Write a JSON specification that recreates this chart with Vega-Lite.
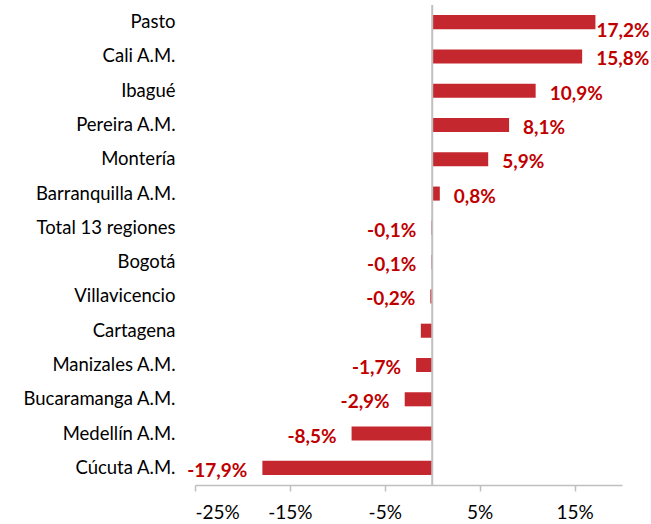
{
  "$schema": "https://vega.github.io/schema/vega-lite/v6.json",
  "width": 427,
  "height": 480,
  "autosize": {"type": "none"},
  "padding": {"left": 195, "top": 5, "right": 29, "bottom": 39},
  "background": "white",
  "config": {"view": {"stroke": null}, "font": "Lato"},
  "data": {
    "values": [
      {"region": "Pasto", "value": 17.2, "label": "17,2%"},
      {"region": "Cali  A.M.", "value": 15.8, "label": "15,8%"},
      {"region": "Ibagué", "value": 10.9, "label": "10,9%"},
      {"region": "Pereira A.M.", "value": 8.1, "label": "8,1%"},
      {"region": "Montería", "value": 5.9, "label": "5,9%"},
      {"region": "Barranquilla A.M.", "value": 0.8, "label": "0,8%"},
      {"region": "Total 13 regiones", "value": -0.1, "label": "-0,1%"},
      {"region": "Bogotá", "value": -0.1, "label": "-0,1%"},
      {"region": "Villavicencio", "value": -0.2, "label": "-0,2%"},
      {"region": "Cartagena", "value": -1.2, "label": ""},
      {"region": "Manizales A.M.", "value": -1.7, "label": "-1,7%"},
      {"region": "Bucaramanga A.M.", "value": -2.9, "label": "-2,9%"},
      {"region": "Medellín A.M.", "value": -8.5, "label": "-8,5%"},
      {"region": "Cúcuta A.M.", "value": -17.9, "label": "-17,9%"}
    ]
  },
  "encoding": {
    "y": {
      "field": "region",
      "type": "nominal",
      "sort": null,
      "scale": {"paddingInner": 0.59, "paddingOuter": 0.295},
      "axis": {
        "title": null,
        "domain": false,
        "ticks": false,
        "labelPadding": 20,
        "labelFontSize": 18.5,
        "labelColor": "#000000",
        "labelFont": "Lato"
      }
    }
  },
  "layer": [
    {
      "mark": {"type": "bar", "color": "#C4282E"},
      "encoding": {
        "x": {
          "field": "value",
          "type": "quantitative",
          "scale": {"domain": [-25, 20], "nice": false, "zero": false},
          "axis": {
            "title": null,
            "values": [-25, -15, -5, 5, 15],
            "labelExpr": "datum.value + '%'",
            "grid": false,
            "domainColor": "#bfbfbf",
            "domainWidth": 1.5,
            "tickColor": "#bfbfbf",
            "tickSize": 6,
            "tickWidth": 1.5,
            "labelFontSize": 19,
            "labelColor": "#000000",
            "labelPadding": 12,
            "labelFont": "Lato"
          }
        }
      }
    },
    {
      "data": {"values": [{"z": 0}]},
      "mark": {"type": "rule", "color": "#bfbfbf", "strokeWidth": 2, "y": 0, "y2": 480},
      "encoding": {"x": {"field": "z", "type": "quantitative"}, "y": null}
    },
    {
      "transform": [{"filter": "datum.value > 0 && datum.region != 'Pasto'"}],
      "mark": {"type": "text", "align": "left", "baseline": "middle", "dx": 14, "dy": 3, "fontSize": 19, "fontWeight": "bold", "color": "#C00000"},
      "encoding": {"x": {"field": "value", "type": "quantitative"}, "text": {"field": "label"}}
    },
    {
      "transform": [{"filter": "datum.region == 'Pasto'"}],
      "mark": {"type": "text", "align": "left", "baseline": "middle", "dx": 1, "dy": 9, "fontSize": 19, "fontWeight": "bold", "color": "#C00000"},
      "encoding": {"x": {"field": "value", "type": "quantitative"}, "text": {"field": "label"}}
    },
    {
      "transform": [{"filter": "datum.value < 0"}],
      "mark": {"type": "text", "align": "right", "baseline": "middle", "dx": -15, "dy": 3, "fontSize": 19, "fontWeight": "bold", "color": "#C00000"},
      "encoding": {"x": {"field": "value", "type": "quantitative"}, "text": {"field": "label"}}
    }
  ]
}
